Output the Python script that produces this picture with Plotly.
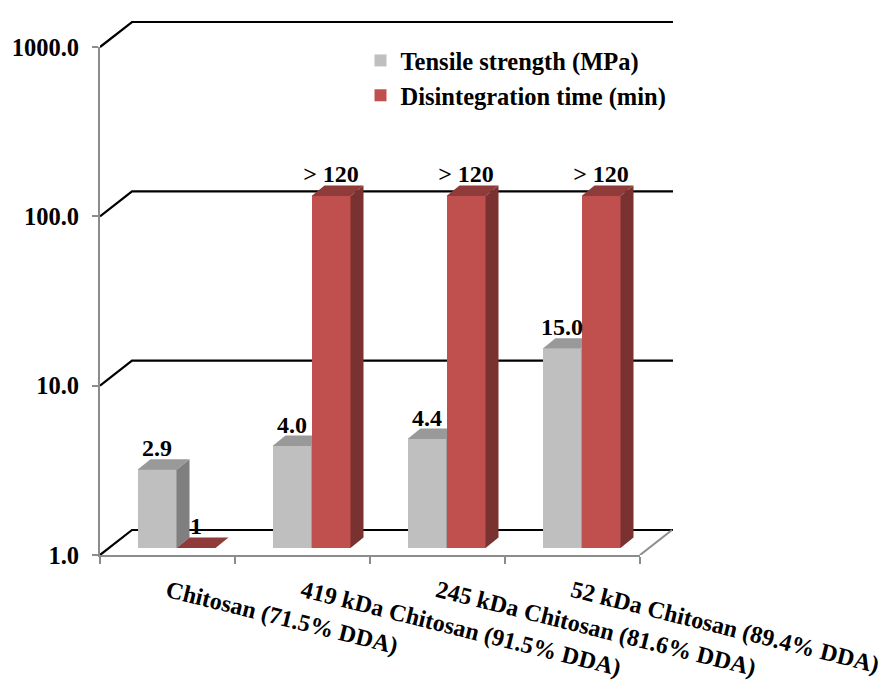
import plotly.graph_objects as go

categories = ["Chitosan (71.5% DDA)", "419 kDa Chitosan (91.5% DDA)",
              "245 kDa Chitosan (81.6% DDA)", "52 kDa Chitosan (89.4% DDA)"]
tensile = [2.9, 4.0, 4.4, 15.0]
tensile_labels = ["2.9", "4.0", "4.4", "15.0"]
disintegration = [1, 120, 120, 120]
disintegration_labels = ["1", "> 120", "> 120", "> 120"]
y_ticks = [1, 10, 100, 1000]
y_tick_labels = ["1.0", "10.0", "100.0", "1000.0"]

PAGE = 8
W, H = 887 - PAGE, 680 - PAGE
CAT_PX, DEC_PX = 135.0, 169.33
FONT = dict(family="Liberation Serif", color="black", weight=700)


def xdom(a, b):
    return [(a - PAGE) / W, (b - PAGE) / W]


def ydom(bottom, top):
    return [1 - (bottom - PAGE) / H, 1 - (top - PAGE) / H]


def xpx(p):
    return p / CAT_PX


def ypx(p):
    return 10 ** (p / DEC_PX)


xpos = list(range(len(categories)))
X_END = -0.5 + 573 / CAT_PX
Y_END = 3.17
BAR_W = 39 / CAT_PX
SKEW_X, SKEW_Y = xpx(13), ypx(10.5)
WALL_X, WALL_Y = xpx(32), ypx(25)
LABEL_LIFT = ypx(7.5)

fig = go.Figure()

# base axes
fig.add_trace(go.Scatter(x=[0], y=[1], mode="markers", marker=dict(opacity=0),
                         showlegend=False, hoverinfo="skip", xaxis="x", yaxis="y"))

# walls and floor
for v in y_ticks:
    fig.add_trace(go.Scatter(x=[-0.5, -0.5 + WALL_X, X_END], y=[v, v * WALL_Y, v * WALL_Y],
                             mode="lines", line=dict(color="black", width=2.2),
                             showlegend=False, hoverinfo="skip", xaxis="x2", yaxis="y2"))
fig.add_trace(go.Scatter(x=[3.5, 3.5 + WALL_X], y=[1, WALL_Y], mode="lines",
                         line=dict(color="#8c8c8c", width=2),
                         showlegend=False, hoverinfo="skip", xaxis="x2", yaxis="y2"))


def bars(values, name, offset, front, side, top, xa, ya):
    fig.add_trace(go.Bar(x=xpos, y=values, name=name, width=BAR_W, offset=offset,
                         legendgroup=name,
                         marker=dict(color=front, line=dict(width=0)),
                         xaxis=xa, yaxis=ya))
    for c, v in zip(xpos, values):
        l, r = c + offset, c + offset + BAR_W
        if v > 1:
            fig.add_trace(go.Scatter(
                x=[r, r + SKEW_X, r + SKEW_X, r, r], y=[1, SKEW_Y, v * SKEW_Y, v, 1],
                mode="lines", fill="toself", fillcolor=side, line=dict(width=0),
                showlegend=False, hoverinfo="skip", xaxis=xa, yaxis=ya))
        fig.add_trace(go.Scatter(
            x=[l, r, r + SKEW_X, l + SKEW_X, l], y=[v, v, v * SKEW_Y, v * SKEW_Y, v],
            mode="lines", fill="toself", fillcolor=top, line=dict(width=0),
            showlegend=False, hoverinfo="skip", xaxis=xa, yaxis=ya))


bars(tensile, "Tensile strength (MPa)", -BAR_W, "#BFBFBF", "#7F7F7F", "#999999", "x3", "y3")
bars(disintegration, "Disintegration time (min)", 0, "#C0504D", "#7A3230", "#8E3B39", "x4", "y4")

for vals, labs, off in [(tensile, tensile_labels, -BAR_W / 2),
                        (disintegration, disintegration_labels, BAR_W / 2)]:
    fig.add_trace(go.Scatter(x=[c + off for c in xpos], y=[v * LABEL_LIFT for v in vals],
                             text=labs, mode="text", textposition="top center",
                             textfont=dict(size=24, **FONT), cliponaxis=False,
                             showlegend=False, hoverinfo="skip", xaxis="x4", yaxis="y4"))

hidden = dict(visible=False, range=[-0.5, X_END])
hidden_y = dict(visible=False, type="log", range=[0, Y_END])

fig.update_layout(
    width=W, height=H, autosize=False,
    margin=dict(l=0, r=0, t=0, b=0, autoexpand=False),
    paper_bgcolor="white", plot_bgcolor="rgba(0,0,0,0)",
    barmode="overlay",
    xaxis=dict(domain=xdom(100, 640), range=[-0.5, 3.5], tickmode="array",
               tickvals=xpos, ticktext=categories, tickangle=14, ticks="",
               showline=True, linecolor="#8c8c8c", linewidth=2, showgrid=False, zeroline=False,
               ticklabelstandoff=11, tickfont=dict(size=24, **FONT),
               minor=dict(tickmode="array", tickvals=[-0.5, 0.5, 1.5, 2.5, 3.5], ticks="outside",
                          ticklen=7, tickcolor="#8c8c8c", tickwidth=2, showgrid=False)),
    yaxis=dict(domain=ydom(555, 47), type="log", range=[0, 3], tickmode="array",
               tickvals=y_ticks, ticktext=y_tick_labels, ticks="outside", ticklen=6,
               tickcolor="#8c8c8c", tickwidth=2, showline=True, linecolor="#8c8c8c", linewidth=2,
               showgrid=False, zeroline=False, ticklabelstandoff=8,
               tickfont=dict(size=24.5, **FONT)),
    xaxis2=dict(domain=xdom(100, 673), anchor="y2", **hidden),
    yaxis2=dict(domain=ydom(555, 555 - Y_END * DEC_PX), anchor="x2", **hidden_y),
    xaxis3=dict(domain=xdom(109, 682), anchor="y3", **hidden),
    yaxis3=dict(domain=ydom(548, 548 - Y_END * DEC_PX), anchor="x3", **hidden_y),
    xaxis4=dict(domain=xdom(109, 682), anchor="y4", **hidden),
    yaxis4=dict(domain=ydom(548, 548 - Y_END * DEC_PX), anchor="x4", **hidden_y),
    legend=dict(x=361 / W, y=1 - 30 / H, xanchor="left", yanchor="top",
                font=dict(size=24.5, **FONT), bgcolor="rgba(0,0,0,0)", borderwidth=0,
                itemwidth=30, tracegroupgap=15, indentation=-8.5, traceorder="normal"),
    bargap=0,
)

fig.write_html("out.html")
